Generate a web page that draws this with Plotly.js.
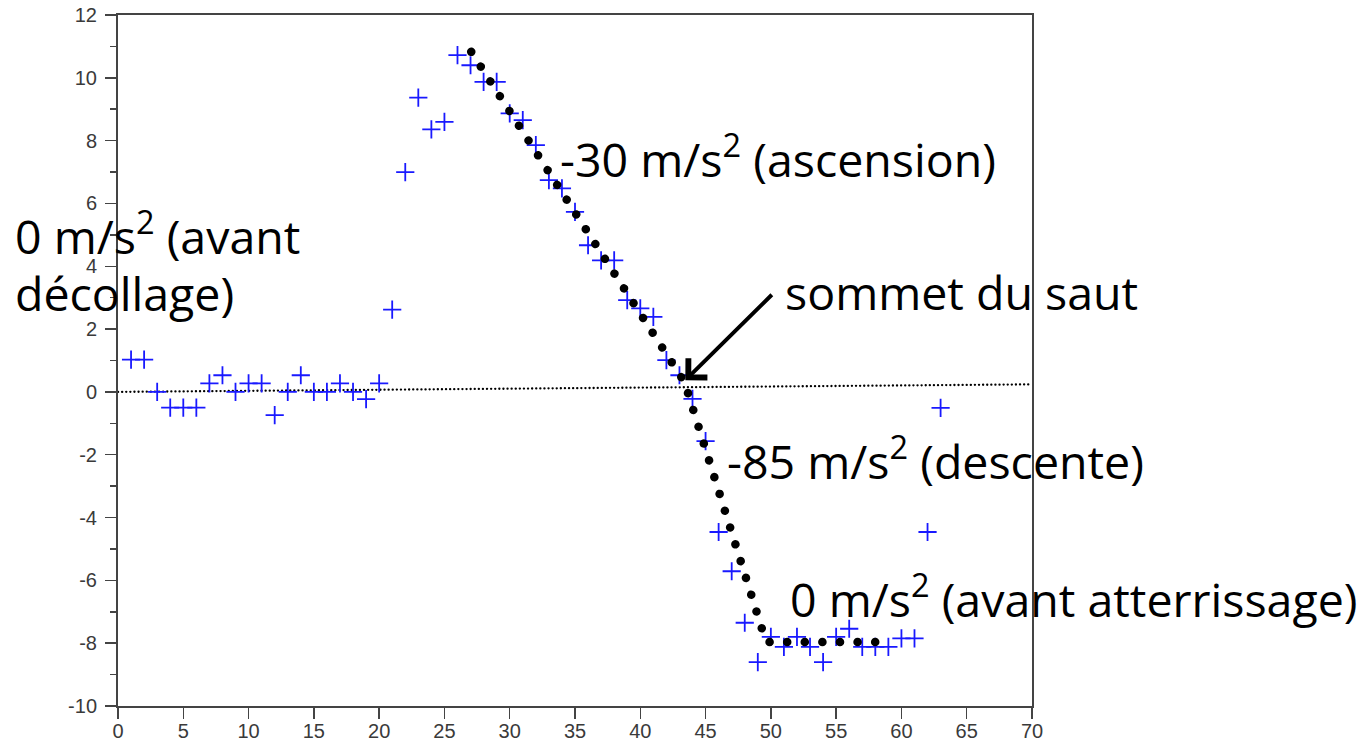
<!DOCTYPE html>
<html>
<head>
<meta charset="utf-8">
<script src="https://cdn.plot.ly/plotly-3.0.1.min.js"></script>
<style>
  html, body { margin: 0; padding: 0; background: #fff; }
  #chart { width: 1371px; height: 741px; }
  .scatterlayer .js-line { stroke-linecap: round; }
</style>
</head>
<body>
<div id="chart"></div>
<script>
// Measured samples (blue crosses)
const sampleIndex = [1,2,3,4,5,6,7,8,9,10,11,12,13,14,15,16,17,18,19,20,
  21,22,23,24,25,26,27,28,29,30,31,32,33,34,35,36,37,38,39,40,
  41,42,43,44,45,46,47,48,49,50,51,52,53,54,55,56,57,58,59,60,61,62,63];
const sampleValue = [1.03,1.03,0,-0.5,-0.5,-0.5,0.27,0.53,0,0.27,0.27,-0.74,0,0.53,0,0,0.27,0,-0.23,0.27,
  2.62,7.0,9.37,8.36,8.6,10.72,10.4,9.87,9.87,8.87,8.65,7.86,6.74,6.48,5.73,4.67,4.19,4.19,2.92,2.66,
  2.39,1.01,0.53,-0.22,-1.57,-4.46,-5.71,-7.35,-8.6,-7.8,-8.12,-7.8,-8.12,-8.6,-7.8,-7.54,-8.12,-8.12,-8.12,-7.85,-7.85,-4.46,-0.51];

// Hand-drawn fit (black dotted line)
const fitX = [27.05, 43.39, 49.45, 49.66, 59.15];
const fitY = [10.83, 0.31, -7.72, -7.96, -7.96];

// Reference (zero) dotted line
const refX = [0, 70];
const refY = [0, 0.24];

// Tick labels
const xTicks = [0,5,10,15,20,25,30,35,40,45,50,55,60,65,70];
const yTicks = [-10,-8,-6,-4,-2,0,2,4,6,8,10,12];

// Text labels
const labels = [
  {text: '0 m/s<sup>2</sup> (avant', px: 13, py: 233},
  {text: 'décollage)', px: 13, py: 293},
  {text: '-30 m/s<sup>2</sup> (ascension)', px: 558, py: 157},
  {text: 'sommet du saut', px: 783, py: 292},
  {text: '-85 m/s<sup>2</sup> (descente)', px: 725, py: 459},
  {text: '0 m/s<sup>2</sup> (avant atterrissage)', px: 788, py: 596}
];
const arrowTip = {x: 43.45, y: 0.37};

const L = 118, R = 339, T = 15, B = 35, W = 1371, H = 741;
const pw = W - L - R, ph = H - T - B;
const toPX = px => (px - L) / pw;
const toPY = py => (H - B - py) / ph;

const traces = [
  {
    x: refX, y: refY, mode: 'lines', type: 'scatter',
    line: {color: '#000', width: 2.3, dash: '0.1px,4px'},
    hoverinfo: 'skip', cliponaxis: false
  },
  {
    x: sampleIndex, y: sampleValue, mode: 'markers', type: 'scatter',
    marker: {symbol: 'cross-thin', size: 13, color: 'rgb(25,25,255)',
             line: {color: 'rgb(25,25,255)', width: 1.8}},
    cliponaxis: false
  },
  {
    x: fitX, y: fitY, mode: 'lines', type: 'scatter',
    line: {color: '#000', width: 8.5, dash: '0.1px,17.5px'},
    cliponaxis: false
  }
];

const textFont = {family: 'Open Sans, sans-serif', size: 46.5, color: '#000'};
const annotations = labels.map(l => ({
  text: l.text, xref: 'paper', yref: 'paper', x: toPX(l.px), y: toPY(l.py),
  xanchor: 'left', yanchor: 'middle', showarrow: false, font: textFont
}));
annotations.push({
  text: '', x: arrowTip.x, y: arrowTip.y, xref: 'x', yref: 'y',
  ax: 88, ay: -87, axref: 'pixel', ayref: 'pixel',
  showarrow: true, arrowhead: 4, arrowsize: 1.3, arrowwidth: 4, arrowcolor: '#000', standoff: 0
});

const axisCommon = {
  showline: true, linecolor: '#444', linewidth: 2, mirror: true,
  showgrid: false, zeroline: false,
  ticks: 'outside', ticklen: 11, tickwidth: 1.5, tickcolor: '#444',
  tickfont: {family: 'Liberation Sans, Arial, sans-serif', size: 20, color: '#3a3a3a'}
};

const layout = {
  width: W, height: H,
  margin: {l: L, r: R, t: T, b: B},
  paper_bgcolor: '#fff', plot_bgcolor: '#fff',
  showlegend: false,
  xaxis: Object.assign({}, axisCommon, {
    range: [0, 70], tickmode: 'array', tickvals: xTicks, ticktext: xTicks.map(String),
    ticklabelstandoff: -5
  }),
  yaxis: Object.assign({}, axisCommon, {
    range: [-10, 12], tickmode: 'array', tickvals: yTicks, ticktext: yTicks.map(String),
    ticklabelstandoff: 4,
    minor: {dtick: 1, ticks: 'outside', ticklen: 6, tickwidth: 1.5, tickcolor: '#444'}
  }),
  annotations: annotations
};

Plotly.newPlot('chart', traces, layout, {displayModeBar: false, staticPlot: true});
</script>
</body>
</html>
